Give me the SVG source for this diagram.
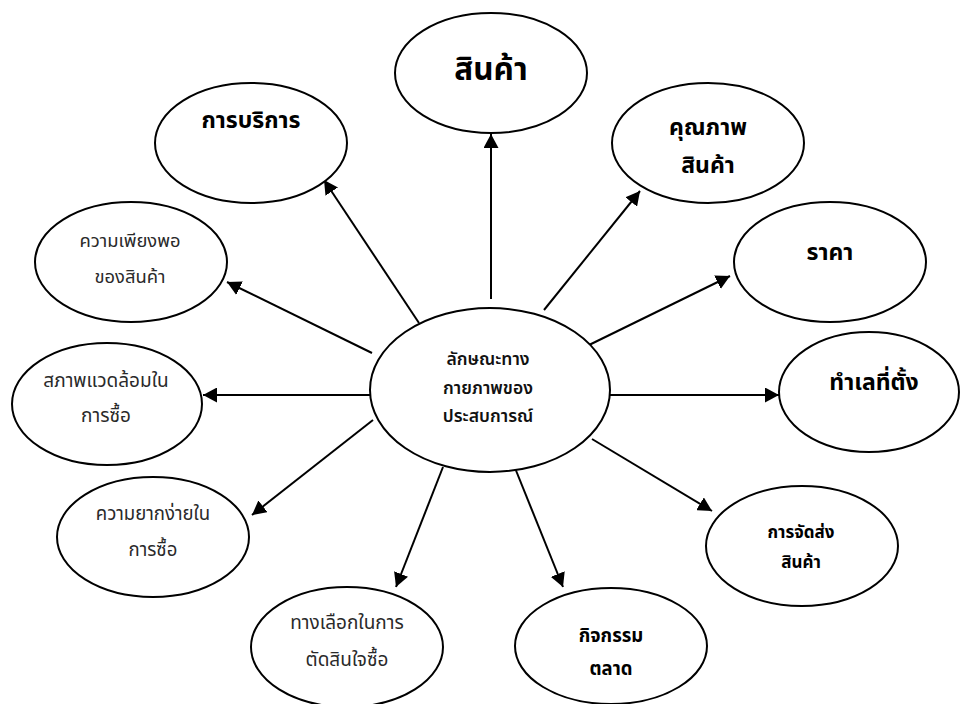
<svg xmlns="http://www.w3.org/2000/svg" width="960" height="704" viewBox="0 0 960 704">
  <style>
    .node ellipse { fill: #ffffff; stroke: #000000; stroke-width: 2; }
    .lbl { font-family: "Noto Sans Thai", "Noto Sans", "DejaVu Sans", sans-serif; text-anchor: middle; fill: #000000; }
    .b { font-weight: bold; }
    .m { font-weight: 600; fill: #111111; }
    .r { font-weight: normal; fill: #2a2a2a; }
    .conn line { stroke: #000000; stroke-width: 2; fill: none; marker-end: url(#head); }
  </style>
  <defs>
    <marker id="head" viewBox="0 0 14 15" refX="14" refY="7.5" markerWidth="14" markerHeight="15" markerUnits="userSpaceOnUse" orient="auto">
      <path d="M0,0 L14,7.5 L0,15 z" fill="#000000"/>
    </marker>
  </defs>
  <rect width="960" height="704" fill="#ffffff"/>

  <!-- connectors: hub to each attribute -->
  <g id="connectors" class="conn">
    <line x1="491" y1="299" x2="491" y2="134"/>
    <line x1="419" y1="323" x2="324" y2="180"/>
    <line x1="544" y1="310" x2="640" y2="191"/>
    <line x1="587" y1="346" x2="730" y2="276"/>
    <line x1="610" y1="395" x2="779" y2="395"/>
    <line x1="592" y1="439" x2="712" y2="511"/>
    <line x1="515" y1="468" x2="563" y2="587"/>
    <line x1="443" y1="467" x2="396" y2="587"/>
    <line x1="373" y1="420" x2="252" y2="515"/>
    <line x1="370" y1="395" x2="203" y2="395"/>
    <line x1="372" y1="353" x2="227" y2="282"/>
  </g>

  <!-- hub -->
  <g id="hub" class="node">
    <ellipse cx="490" cy="390" rx="120" ry="82"/>
    <text class="lbl m" x="488" y="365" font-size="17.5">ลักษณะทาง</text>
    <text class="lbl m" x="488" y="394" font-size="17.5">กายภาพของ</text>
    <text class="lbl m" x="488" y="422" font-size="17.5">ประสบการณ์</text>
  </g>

  <g id="product" class="node">
    <ellipse cx="491" cy="73" rx="96" ry="60"/>
    <text class="lbl b" x="491" y="80" font-size="31.5">สินค้า</text>
  </g>

  <g id="service" class="node">
    <ellipse cx="251" cy="143" rx="96" ry="60"/>
    <text class="lbl b" x="251" y="128" font-size="23">การบริการ</text>
  </g>

  <g id="quality" class="node">
    <ellipse cx="708" cy="143" rx="96" ry="60"/>
    <text class="lbl b" x="708" y="135" font-size="23">คุณภาพ</text>
    <text class="lbl b" x="708" y="173" font-size="23">สินค้า</text>
  </g>

  <g id="price" class="node">
    <ellipse cx="830" cy="262" rx="96" ry="60"/>
    <text class="lbl b" x="830" y="260" font-size="23">ราคา</text>
  </g>

  <g id="location" class="node">
    <ellipse cx="869" cy="392" rx="90" ry="60"/>
    <text class="lbl b" x="874" y="390" font-size="23">ทำเลที่ตั้ง</text>
  </g>

  <g id="delivery" class="node">
    <ellipse cx="802" cy="546" rx="96" ry="60"/>
    <text class="lbl b" x="801" y="538" font-size="17">การจัดส่ง</text>
    <text class="lbl b" x="801" y="568" font-size="17">สินค้า</text>
  </g>

  <g id="marketing" class="node">
    <ellipse cx="611" cy="646" rx="96" ry="58"/>
    <text class="lbl b" x="611" y="642" font-size="18.5">กิจกรรม</text>
    <text class="lbl b" x="611" y="675" font-size="18.5">ตลาด</text>
  </g>

  <g id="choice" class="node">
    <ellipse cx="347" cy="647" rx="96" ry="60"/>
    <text class="lbl r" x="347" y="629" font-size="19">ทางเลือกในการ</text>
    <text class="lbl r" x="347" y="666" font-size="19">ตัดสินใจซื้อ</text>
  </g>

  <g id="ease" class="node">
    <ellipse cx="153" cy="537" rx="96" ry="60"/>
    <text class="lbl r" x="153" y="520" font-size="18.6">ความยากง่ายใน</text>
    <text class="lbl r" x="153" y="556" font-size="18.6">การซื้อ</text>
  </g>

  <g id="environment" class="node">
    <ellipse cx="107" cy="404" rx="95" ry="61"/>
    <text class="lbl r" x="106" y="387" font-size="19">สภาพแวดล้อมใน</text>
    <text class="lbl r" x="106" y="422" font-size="19">การซื้อ</text>
  </g>

  <g id="sufficiency" class="node">
    <ellipse cx="131" cy="262" rx="96" ry="60"/>
    <text class="lbl r" x="130" y="247" font-size="18.4">ความเพียงพอ</text>
    <text class="lbl r" x="130" y="283" font-size="18.4">ของสินค้า</text>
  </g>
</svg>
